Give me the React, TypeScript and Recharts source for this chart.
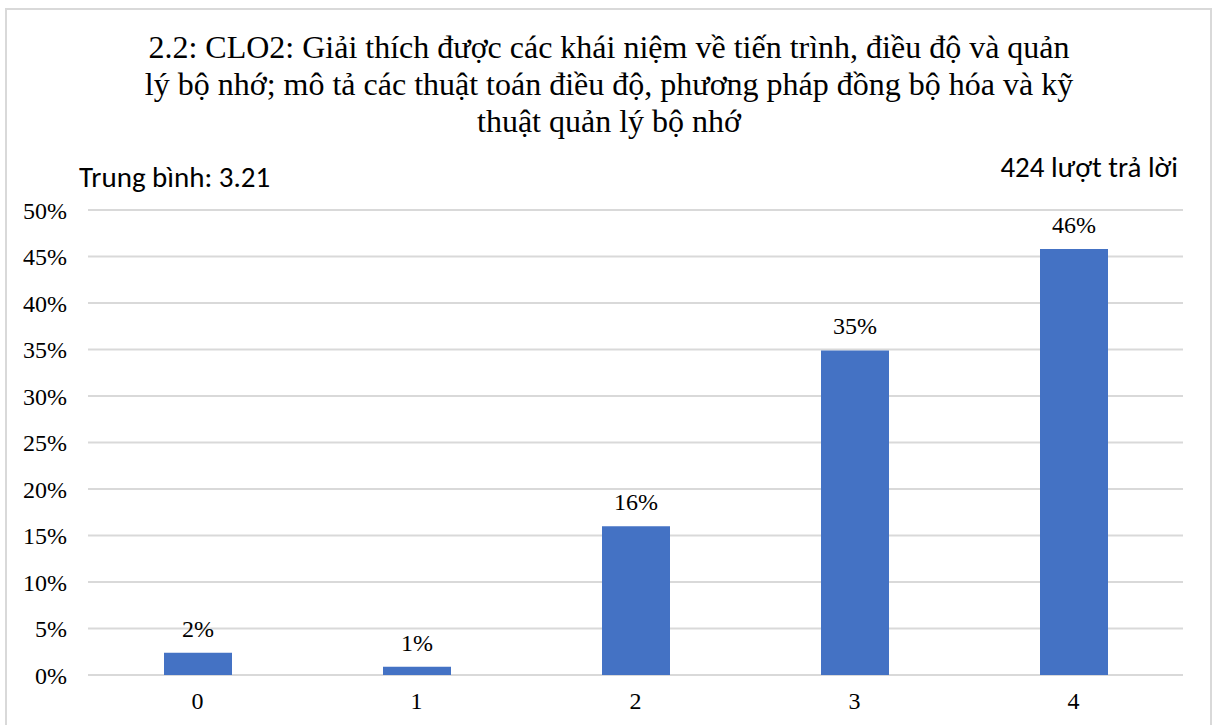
import { Bar, BarChart, CartesianGrid, LabelList, XAxis, YAxis } from 'recharts'

const categories = ['0', '1', '2', '3', '4']
const percents = [2.4, 0.9, 16.0, 34.9, 45.8]
const yTicks = [0, 5, 10, 15, 20, 25, 30, 35, 40, 45, 50]

const titleLines = [
  '2.2: CLO2: Giải thích được các khái niệm về tiến trình, điều độ và quản',
  'lý bộ nhớ; mô tả các thuật toán điều độ, phương pháp đồng bộ hóa và kỹ',
  'thuật quản lý bộ nhớ',
]
const averageText = 'Trung bình: 3.21'
const responsesText = '424 lượt trả lời'

const data = categories.map((name, i) => ({ name, value: percents[i] }))

const serif = 'Liberation Serif'
const sans = 'Carlito'

export default function App() {
  return (
    <div style={{ position: 'absolute', left: 0, top: 0, width: 1216, height: 725, background: '#fff', overflow: 'hidden' }}>
      <div
        style={{
          position: 'absolute',
          left: 5,
          top: 8,
          width: 1203,
          height: 740,
          border: '2px solid #d9d9d9',
        }}
      />
      <div
        style={{
          position: 'absolute',
          left: 0,
          top: 29,
          width: 1218,
          textAlign: 'center',
          fontFamily: serif,
          fontSize: 32,
          lineHeight: '37px',
          color: '#000',
          whiteSpace: 'nowrap',
        }}
      >
        {titleLines.map((l) => (
          <div key={l}>{l}</div>
        ))}
      </div>
      <div style={{ position: 'absolute', left: 79, top: 159, fontFamily: sans, fontSize: 29, color: '#000' }}>
        {averageText}
      </div>
      <div style={{ position: 'absolute', right: 38, top: 149, fontFamily: sans, fontSize: 29, color: '#000' }}>
        {responsesText}
      </div>
      <div style={{ position: 'absolute', left: 0, top: 0 }}>
        <BarChart width={1216} height={725} data={data} margin={{ top: 210, right: 33, bottom: 20, left: 8 }} barSize={68}>
          <CartesianGrid vertical={false} stroke="#d9d9d9" strokeWidth={2} />
          <XAxis
            dataKey="name"
            axisLine={false}
            tickLine={false}
            tickSize={0}
            tickMargin={17}
            height={30}
            tick={{ fill: '#000', fontSize: 24, fontFamily: serif }}
          />
          <YAxis
            domain={[0, 50]}
            ticks={yTicks}
            interval={0}
            axisLine={false}
            tickLine={false}
            tickSize={0}
            tickMargin={21}
            width={80}
            tickFormatter={(v: number) => `${v}%`}
            tick={{ fill: '#000', fontSize: 24, fontFamily: serif }}
          />
          <Bar dataKey="value" fill="#4472c4" isAnimationActive={false}>
            <LabelList
              dataKey="value"
              position="top"
              offset={16}
              formatter={(v: number) => `${Math.round(v)}%`}
              fill="#000"
              fontSize={24}
              fontFamily={serif}
            />
          </Bar>
        </BarChart>
      </div>
    </div>
  )
}
